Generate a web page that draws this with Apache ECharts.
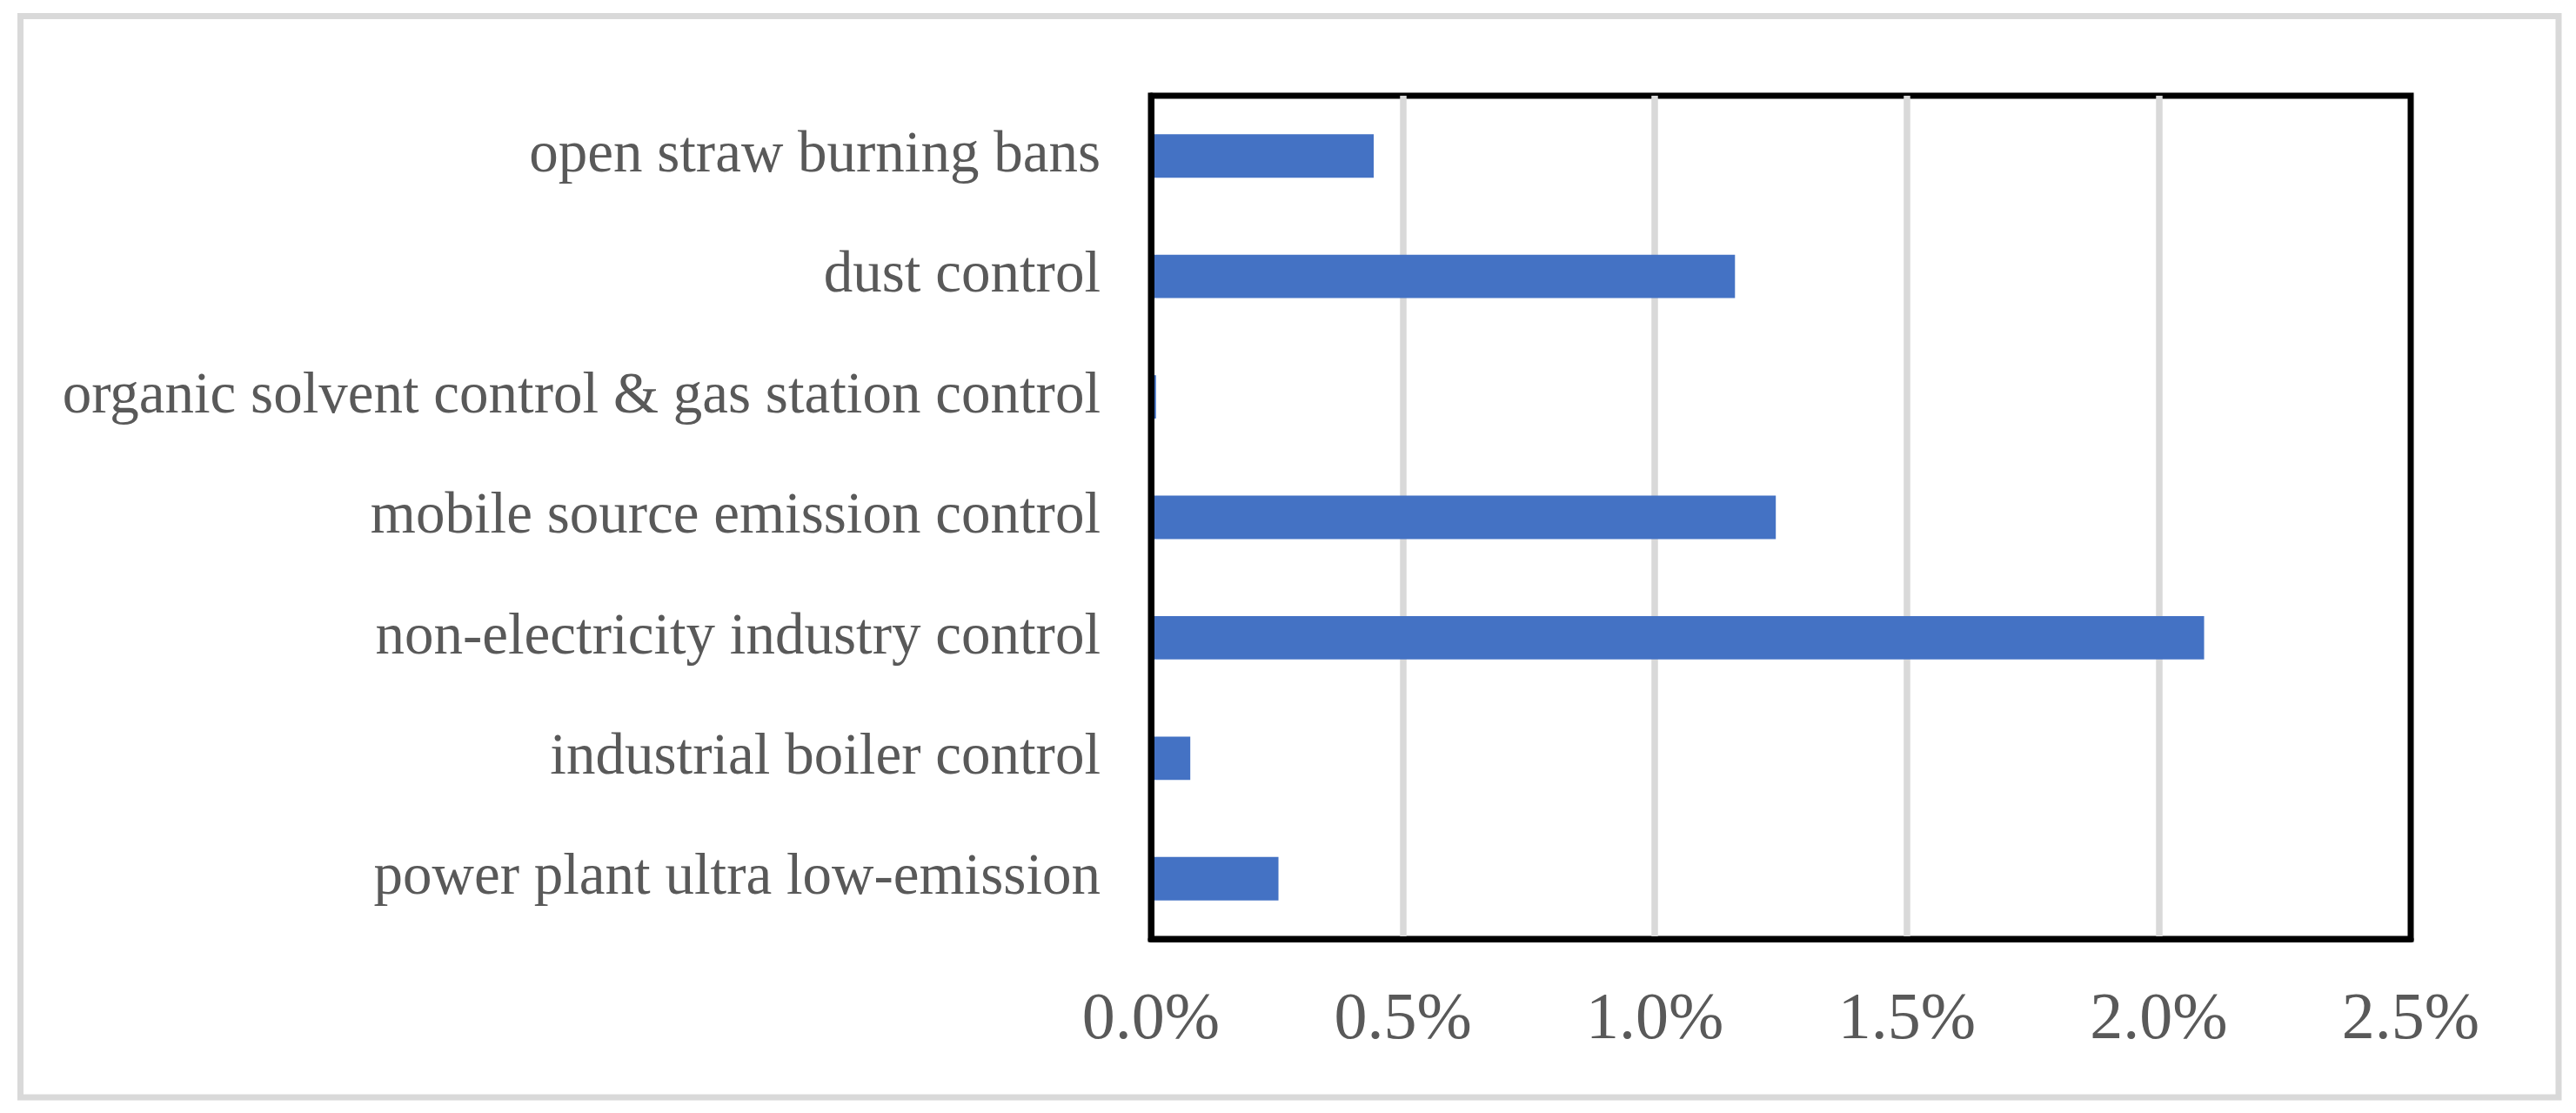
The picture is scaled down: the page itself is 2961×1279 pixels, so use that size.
<!DOCTYPE html>
<html>
<head>
<meta charset="utf-8">
<script src="https://cdn.jsdelivr.net/npm/echarts@6/dist/echarts.min.js"></script>
<style>
html,body{margin:0;padding:0;background:#fff;}
#chart{width:2961px;height:1279px;}
</style>
</head>
<body>
<div id="chart"></div>
<script>
const categories = [
  "power plant ultra low-emission",
  "industrial boiler control",
  "non-electricity industry control",
  "mobile source emission control",
  "organic solvent control & gas station control",
  "dust control",
  "open straw burning bans"
];
const values = [0.253, 0.078, 2.09, 1.24, 0.01, 1.159, 0.442];
const xTicks = { min: 0, max: 2.5, interval: 0.5 };

const chart = echarts.init(document.getElementById('chart'), null, {renderer: 'canvas'});
const fontFamily = "'Liberation Serif', 'Times New Roman', serif";
chart.setOption({
  backgroundColor: '#ffffff',
  animation: false,
  graphic: [{
    type: 'rect',
    shape: {x: 23.5, y: 18.5, width: 2917.5, height: 1242.5},
    style: {fill: 'none', stroke: '#d9d9d9', lineWidth: 7},
    z: -1
  }],
  grid: {
    left: 1323, right: 190, top: 110, bottom: 200,
    show: true, borderColor: '#000', borderWidth: 7, backgroundColor: 'transparent',
    containLabel: false
  },
  xAxis: {
    type: 'value',
    min: xTicks.min, max: xTicks.max, interval: xTicks.interval,
    axisLine: {show: true, lineStyle: {color: '#000', width: 7}},
    axisTick: {show: false},
    splitLine: {show: true, showMinLine: false, showMaxLine: false, lineStyle: {color: '#d9d9d9', width: 7.5}},
    axisLabel: {
      margin: 56, color: '#595959', fontSize: 76, fontFamily: fontFamily,
      formatter: v => v.toFixed(1) + '%'
    }
  },
  yAxis: {
    type: 'category',
    data: categories,
    z: 10,
    axisLine: {show: true, lineStyle: {color: '#000', width: 7}},
    axisTick: {show: false},
    splitLine: {show: false},
    axisLabel: {margin: 58, color: '#595959', fontSize: 67, fontFamily: fontFamily}
  },
  series: [{
    type: 'bar',
    data: values,
    barCategoryGap: '64%',
    itemStyle: {color: '#4472C4'},
    z: 2
  }]
});
</script>
</body>
</html>
